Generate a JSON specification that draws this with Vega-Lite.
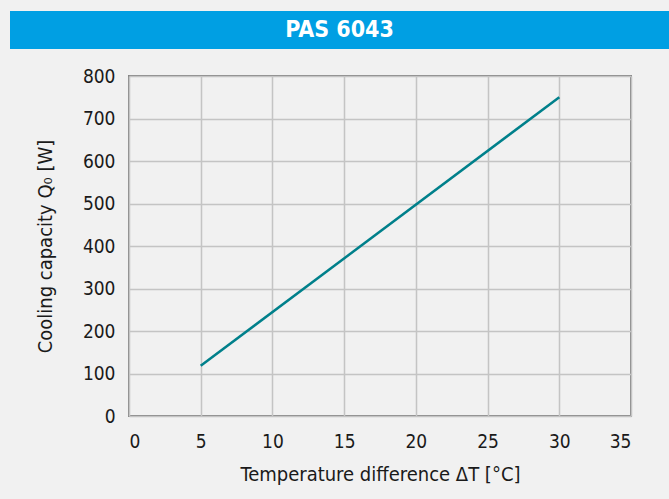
{
  "$schema": "https://vega.github.io/schema/vega-lite/v6.json",
  "background": "#f1f1f1",
  "padding": {"left": 10, "top": 11, "right": 0, "bottom": 14},
  "spacing": 17,
  "config": {
    "font": "DejaVu Sans Condensed, sans-serif",
    "axis": {
      "grid": true,
      "gridColor": "#c4c4c4",
      "gridWidth": 1.5,
      "domain": false,
      "ticks": false,
      "labelFont": "DejaVu Sans Condensed, sans-serif",
      "titleFont": "DejaVu Sans Condensed, sans-serif",
      "labelFontSize": 19,
      "titleFontSize": 20,
      "titleFontWeight": "normal",
      "labelColor": "#1a1a1a",
      "titleColor": "#1a1a1a"
    }
  },
  "vconcat": [
    {
      "width": 659,
      "height": 38,
      "view": {"fill": "#009fe3", "stroke": null},
      "data": {"values": [{"t": "PAS 6043"}]},
      "mark": {"type": "text", "fontSize": 23, "fontWeight": "bold", "color": "white", "font": "DejaVu Sans Condensed, sans-serif"},
      "encoding": {"text": {"field": "t"}}
    },
    {
      "spacing": 0,
      "hconcat": [
        {
          "width": 24,
          "height": 340,
          "view": {"fill": "#f1f1f1", "stroke": null},
          "data": {"values": []},
          "mark": "text",
          "encoding": {}
        },
        {
          "width": 502,
          "height": 340,
          "view": {"fill": "#f1f1f1", "stroke": "#858585", "strokeWidth": 2},
          "data": {"values": [{"dT": 5, "Q": 118}, {"dT": 30, "Q": 750}]},
          "mark": {"type": "line", "color": "#00808b", "strokeWidth": 2.5},
          "encoding": {
            "x": {
              "field": "dT", "type": "quantitative",
              "scale": {"domain": [0, 35], "nice": false},
              "axis": {"values": [0, 5, 10, 15, 20, 25, 30, 35], "title": "Temperature difference ΔT [°C]", "labelPadding": 16, "titlePadding": 13}
            },
            "y": {
              "field": "Q", "type": "quantitative",
              "scale": {"domain": [0, 800], "nice": false},
              "axis": {"values": [0, 100, 200, 300, 400, 500, 600, 700, 800], "title": "Cooling capacity Q₀ [W]", "labelPadding": 14, "titlePadding": 27}
            }
          }
        }
      ]
    }
  ]
}
